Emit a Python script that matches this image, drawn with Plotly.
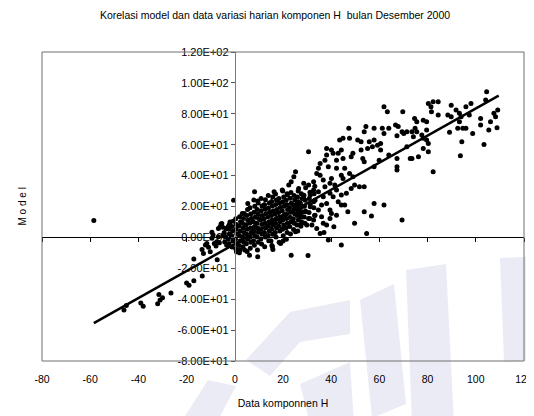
import plotly.graph_objects as go

# ---------------- data ----------------
title_text = "Korelasi model dan data variasi harian komponen H  bulan Desember 2000"
x_title = "Data komponnen H"
y_title = "M o d e l"

x_ticks = [-80, -60, -40, -20, 0, 20, 40, 60, 80, 100, 120]
x_tick_text = ["-80", "-60", "-40", "-20", "0", "20", "40", "60", "80", "100", "120"]
y_ticks = [-80, -60, -40, -20, 0, 20, 40, 60, 80, 100, 120]
y_tick_text = ["-8.00E+01", "-6.00E+01", "-4.00E+01", "-2.00E+01", "0.00E+00",
               "2.00E+01", "4.00E+01", "6.00E+01", "8.00E+01", "1.00E+02", "1.20E+02"]

# points left of the main cloud
left_pts = [(-58.5, 11), (-46, -47), (-45, -44), (-39, -42.5), (-38, -44.5), (-32, -43),
            (-31, -40.5), (-30, -39), (-31.5, -37), (-26.5, -36), (-20, -29.5), (-19, -31),
            (-17, -28), (-13.5, -25), (-17, -14), (-13.6, -7.8), (-13, -10.5), (-11.6, -3.9),
            (-10.9, -6.3), (-10.2, -9.3), (-9.5, -0.6), (-12.2, -5), (-8.5, -4), (-9, 1.5),
            (-7.3, -14.5), (-9.5, 3.4)]

# points around the axis crossing and the cloud's edges
edge_pts = [(-6.8, 5.8), (-5.4, 9), (-4.8, 1.5), (-7.5, -2.8), (-2.7, 7), (-3.4, -5),
            (-1.4, 0.5), (-2, 10), (-0.5, 24), (-6.1, 6.9), (-6.8, 0.5), (1.9, -10),
            (-7.8, -5.6), (-6.4, -3.4), (-5, 6.5), (-5.7, 8.7), (0.7, -9.3), (4.1, -8.2),
            (6.1, -11.5), (9.5, -12.5), (15.6, -6), (23.4, -11.5), (15, -2.4), (19, -3.9),
            (15.8, -7.8), (20, -2.3), (30.4, -11.7), (25.2, 42.5), (24.5, 39.3), (23.4, 36),
            (22.4, 33.9), (8.2, 29.6), (16.3, 29.6), (19.7, 30.6), (21.8, 27.4), (5.4, 22),
            (9.5, 23.5), (3.1, 15.5), (12.2, 20.9), (25.8, 22), (27.2, 16.6)]

# dense core of the cloud
core_pts = [
    (-4.2, -3), (-3.8, 0.4), (-4.4, 3.2), (-3.6, 5.8),
    (-2.4, -4.1), (-2.8, -1.2), (-2.2, 2.3), (-2.6, 5.4), (-2.3, 8.2),
    (-1.1, -6.2), (-0.8, -2.3), (-1.3, 1.1), (-0.9, 4.2), (-1.2, 7.1), (-0.7, 10.4),
    (0.4, -7.3), (0.7, -4.2), (0.3, -1.1), (0.8, 2.2), (0.5, 5.3), (0.6, 8.4), (0.4, 12.1),
    (2.1, -8.1), (1.8, -5.2), (2.3, -2.1), (1.9, 1.2), (2.2, 4.1), (1.7, 7.3), (2.4, 10.2), (2, 13.3),
    (3.4, -6.2), (3.7, -3.1), (3.3, 0.2), (3.8, 3.1), (3.5, 6.2), (3.2, 9.1), (3.6, 12.3), (3.9, 15.4),
    (5.1, -9.2), (4.8, -4.1), (5.3, -1.2), (4.9, 2.1), (5.2, 5.3), (4.7, 8.2), (5.4, 11.1), (5, 14.2), (5.3, 18.1),
    (6.4, -7.1), (6.7, -3.2), (6.3, 0.1), (6.8, 3.2), (6.5, 6.1), (6.2, 9.3), (6.9, 12.2), (6.6, 15.1), (6.3, 19.2),
    (8.1, -5.1), (7.8, -2.2), (8.3, 1.1), (7.9, 4.3), (8.2, 7.1), (7.7, 10.2), (8.4, 13.1), (8, 16.3), (8.3, 20.1), (7.9, 24.2),
    (9.4, -8.2), (9.7, -3.1), (9.3, 0.2), (9.8, 3.3), (9.5, 6.1), (9.2, 9.2), (9.9, 12.3), (9.6, 15.2), (9.3, 18.1), (9.7, 22.3),
    (11.1, -4.2), (10.8, -1.1), (11.3, 2.2), (10.9, 5.1), (11.2, 8.3), (10.7, 11.2), (11.4, 14.1), (11, 17.2), (11.3, 20.3), (10.9, 25.1),
    (12.4, -6.1), (12.7, 0.2), (12.3, 3.1), (12.8, 6.3), (12.5, 9.2), (12.2, 12.1), (12.9, 15.3), (12.6, 18.2), (12.3, 21.1), (12.7, 24.3),
    (14.1, -2.1), (13.8, 1.2), (14.3, 4.1), (13.9, 7.2), (14.2, 10.1), (13.7, 13.3), (14.4, 16.2), (14, 19.1), (14.3, 22.2), (13.9, 27.1),
    (15.4, -5.2), (15.7, 2.1), (15.3, 5.2), (15.8, 8.1), (15.5, 11.3), (15.2, 14.2), (15.9, 17.1), (15.6, 20.3), (15.3, 23.2), (15.7, 26.1),
    (17.1, 0.2), (16.8, 3.1), (17.3, 6.2), (16.9, 9.1), (17.2, 12.3), (16.7, 15.2), (17.4, 18.1), (17, 21.3), (17.3, 24.2), (16.9, 28.1),
    (18.4, -3.2), (18.7, 4.1), (18.3, 7.2), (18.8, 10.1), (18.5, 13.2), (18.2, 16.1), (18.9, 19.3), (18.6, 22.2), (18.3, 25.1),
    (20.1, 1.1), (19.8, 5.2), (20.3, 8.1), (19.9, 11.2), (20.2, 14.1), (19.7, 17.3), (20.4, 20.2), (20, 23.1), (20.3, 26.2), (19.9, 30.1),
    (21.4, -1.2), (21.7, 3.1), (21.3, 6.2), (21.8, 9.1), (21.5, 12.3), (21.2, 15.2), (21.9, 18.1), (21.6, 21.2), (21.3, 24.1), (21.7, 28.2),
    (23.1, 2.2), (22.8, 7.1), (23.3, 10.2), (22.9, 13.1), (23.2, 16.3), (22.7, 19.2), (23.4, 22.1), (23, 25.3), (23.3, 29.1),
    (24.4, 5.1), (24.7, 9.2), (24.3, 12.1), (24.8, 15.3), (24.5, 18.2), (24.2, 21.1), (24.9, 24.3), (24.6, 27.2),
    (26.1, 4.2), (25.8, 8.1), (26.3, 11.2), (25.9, 14.1), (26.2, 17.3), (25.7, 20.2), (26.4, 23.1), (26, 26.2), (26.3, 30.1),
    (27.4, 7.2), (27.7, 10.1), (27.3, 13.2), (27.8, 16.1), (27.5, 19.3), (27.2, 22.2), (27.9, 25.1), (27.6, 28.2),
    (29.1, 9.1), (28.8, 13.2), (29.3, 17.1), (28.9, 20.2), (29.2, 24.1), (28.7, 27.3), (29.4, 32.1),
    (31.1, 12.2), (30.8, 16.1), (31.3, 21.2), (30.9, 25.1), (31.2, 29.3),
    (33.1, 14.1), (32.8, 19.2), (33.3, 24.1), (32.9, 28.2), (33.2, 33.1),
]

# middle part of the cloud (data 25..75)
mid_pts = [
    (61.9, 84.6), (63.3, 81.4), (69.7, 81.4), (47.3, 70.6), (54.4, 71.7), (53.7, 68.4), (57.8, 70.6),
    (61.2, 70.6), (61.9, 67.3), (63.9, 70.6), (66.7, 72.7), (67.8, 71.7), (69.4, 68.4), (71.4, 68.4),
    (67.3, 65.8), (43.5, 63), (44.9, 64.1), (47.6, 64.1), (51, 63), (52.4, 61.9), (55.8, 61.9),
    (57.8, 63), (59.2, 59.7), (60.5, 60.8), (60.5, 56.5), (57.1, 58.7), (55.1, 57.6), (52.4, 56.5),
    (49, 54.4), (48.3, 52.2), (53.1, 51.1), (53.7, 49), (57.8, 45.8), (59.9, 50), (63.9, 53.3),
    (67.3, 51.1), (67.3, 45.8), (67.3, 43.6), (72.8, 51.1), (30.6, 55.5), (38.1, 57.6), (40.1, 56.5),
    (40.8, 54.4), (42.9, 54.4), (44.2, 56.5), (38.1, 53.3), (37.4, 50), (35.4, 47.9), (34.7, 44.7),
    (38.8, 45.8), (42.2, 50), (44.9, 51.1), (45.6, 44.7), (42.2, 44.7), (40.1, 38.2), (44.2, 40.3),
    (44.9, 38.2), (47.6, 41.4), (49, 39.3), (49.7, 33.9), (48.3, 31.7), (51.7, 32.8), (53.7, 32.8),
    (35.4, 40.3), (34, 41.4), (37.4, 32.8), (36.7, 37.1), (41.5, 33.9), (42.2, 30.6), (30.6, 33.9),
    (28.6, 35), (26.5, 31.7), (32.7, 30.6), (34.7, 29.6), (39.5, 28.5), (40.8, 26.3), (36.7, 26.3),
    (38.1, 22), (42.9, 23.1), (44.2, 20.9), (45.6, 20.9), (39.5, 17.7), (40.1, 15.5), (42.2, 14.4),
    (46.9, 16.6), (57.8, 22), (61.9, 20.9), (53.7, 16.6), (56.7, 13.8), (49.7, 9.1), (41.1, 6.9),
    (69.4, 11.2), (54.7, 2.6), (36.7, 9.1), (34, 5.8), (35.4, 2.6), (37, 3.2), (30.6, 12.3),
    (32.7, 11.2), (38.8, -1.7), (44.2, -5), (25.2, 3.7), (27.2, 8), (29.3, 16.6), (31.3, 19.9),
    (32.7, 23.1), (28.6, 25.2), (27.2, 20.9), (26.5, 16.6), (34.7, 17.7), (36, 20.9), (29.9, 8),
    (27.2, 14.4), (32, 8), (33.3, 14.4), (38.1, 8), (39.5, 12.3), (36, 13.4), (31.3, 27.4),
    (32.7, 36), (39.5, 35), (46.3, 28.5), (44.2, 27.4),
]

# upper-right part of the cloud (data 70..110)
upper_pts = [
    (104.5, 94.3), (104.1, 88.9), (80.3, 86.7), (82.3, 87.8), (84.4, 87.8), (81.4, 84.6),
    (81.6, 81.4), (84.4, 79.2), (89.8, 85.6), (91.8, 82.4), (95.9, 84.6), (98, 86.7),
    (88.4, 79.2), (89.8, 78.1), (93.2, 80.3), (93.9, 78.1), (97.3, 79.2), (93.2, 74.9),
    (92.5, 70.6), (94.6, 70.6), (95.9, 70.6), (89.1, 68), (98.7, 67.3), (102, 77), (102, 72.7),
    (106.1, 74.9), (107.5, 80.3), (108.2, 78.1), (109.1, 82.4), (105.4, 69.5), (108.8, 71),
    (103.4, 60.2), (94.2, 61.9), (93.6, 52.9), (82.3, 42.5), (74.6, 77), (75.5, 74.9),
    (78.2, 75.9), (79.6, 74.9), (79.6, 69.5), (74.8, 70.6), (73.5, 68.4), (75.5, 68.4),
    (70.1, 67.3), (74.1, 65.2), (77.6, 66.2), (78.2, 64.1), (79.6, 63), (80.3, 60.8),
    (78.2, 57.6), (80.3, 55.5), (76.2, 52.2), (73.5, 51.1), (71.4, 58.7),
]

# linear trend line, end points
trend_x = [-58.5, 109.5]
trend_y = [-55.5, 91.8]

# ---------------- layout constants ----------------
W, H = 534, 416
ML, MR, MT, MB = 34, 18, 44, 63
PW, PH = W - ML - MR, H - MT - MB
FONT = "Liberation Sans, Arial, sans-serif"


def pp(px, py):
    """pixel -> paper coords (for decoration only)"""
    return (px - ML) / PW, (H - MB - py) / PH


all_pts = left_pts + edge_pts + core_pts + mid_pts + upper_pts
xs = [p[0] for p in all_pts]
ys = [p[1] for p in all_pts]

fig = go.Figure()
fig.add_trace(go.Scatter(x=xs, y=ys, mode="markers", xaxis="x", yaxis="y",
                         marker=dict(color="black", size=5, line=dict(width=0)),
                         showlegend=False, hoverinfo="skip"))
fig.add_trace(go.Scatter(x=trend_x, y=trend_y, mode="lines", xaxis="x2", yaxis="y",
                         line=dict(color="black", width=2.5), showlegend=False,
                         hoverinfo="skip"))

# faint watermark (background decoration)
wm_polys = [
    [(172, 416), (200, 372), (228, 378), (208, 416)],
    [(238, 352), (282, 304), (342, 292), (342, 326), (292, 334), (262, 368)],
    [(292, 376), (342, 354), (346, 416), (302, 416)],
    [(352, 292), (386, 276), (398, 396), (364, 410)],
    [(398, 262), (438, 256), (446, 416), (404, 416)],
    [(492, 250), (534, 248), (534, 352), (496, 354)],
]
shapes = []
for poly in wm_polys:
    pts = [pp(a, b) for a, b in poly]
    path = "M " + " L ".join(f"{a:.4f},{b:.4f}" for a, b in pts) + " Z"
    shapes.append(dict(type="path", path=path, xref="paper", yref="paper",
                       fillcolor="#ebebf6", line=dict(width=0), layer="below"))
shapes.append(dict(type="rect", xref="paper", yref="paper", x0=0, y0=0, x1=1, y1=1,
                   line=dict(color="#6e6e6e", width=1), layer="above"))

fig.update_layout(
    width=W, height=H,
    margin=dict(l=ML, r=MR, t=MT, b=MB),
    paper_bgcolor="white", plot_bgcolor="rgba(0,0,0,0)",
    font=dict(family=FONT, size=11, color="black"),
    title=dict(text=title_text, x=0.5, xref="container", xanchor="center",
               y=1 - 7 / H, yref="container", yanchor="middle",
               font=dict(family=FONT, size=10.5, color="black")),
    xaxis=dict(range=[-80, 120], tickvals=x_ticks, ticktext=x_tick_text,
               showline=False, ticks="", showgrid=False, zeroline=False,
               ticklabelstandoff=10, automargin=False, ticklabeloverflow="allow",
               tickfont=dict(size=10.5),
               title=dict(text=x_title, standoff=16, font=dict(size=10.5))),
    xaxis2=dict(range=[-80, 120], matches="x", overlaying="x", anchor="free",
                position=0.4, showline=True, linecolor="black", linewidth=1,
                ticks="outside", ticklen=4, tickcolor="black", tickvals=x_ticks,
                showticklabels=False, showgrid=False, zeroline=False),
    yaxis=dict(range=[-80, 120], anchor="free", position=0.4, tickvals=y_ticks,
               ticktext=y_tick_text, showline=True, linecolor="#7a7a7a", linewidth=1,
               ticks="outside", ticklen=4, tickcolor="#555", showgrid=False,
               zeroline=False, automargin=False, tickfont=dict(size=11)),
    shapes=shapes,
    annotations=[dict(text=y_title, xref="paper", yref="paper", x=pp(14, 0)[0], y=0.5,
                      textangle=-90, showarrow=False, xanchor="center", yanchor="middle",
                      font=dict(family=FONT, size=10, color="black"))],
)

fig.write_html("out.html")
